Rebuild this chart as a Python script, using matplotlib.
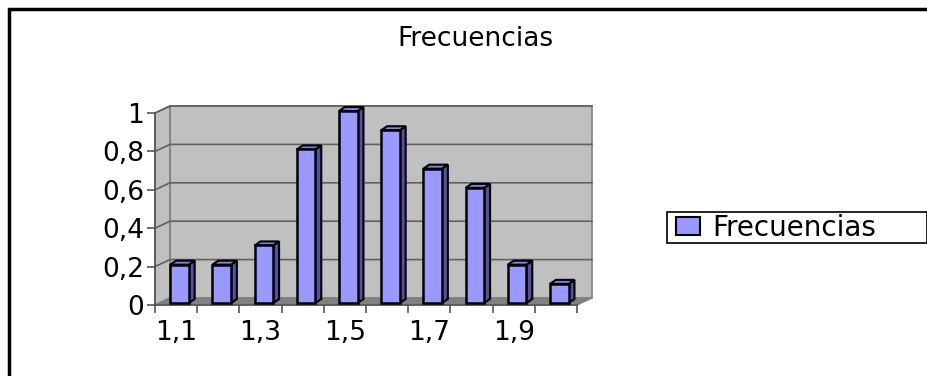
import matplotlib.pyplot as plt
from matplotlib.patches import Polygon, Rectangle, Patch

plt.rcParams['font.family'] = ['DejaVu Sans']

# Data
categories = ["1,1", "1,2", "1,3", "1,4", "1,5", "1,6", "1,7", "1,8", "1,9", "2"]
frecuencias = [0.2, 0.2, 0.3, 0.8, 1.0, 0.9, 0.7, 0.6, 0.2, 0.1]
y_ticks = [0, 0.2, 0.4, 0.6, 0.8, 1.0]
y_labels = ["0", "0,2", "0,4", "0,6", "0,8", "1"]

W, H = 928, 376
fig = plt.figure(figsize=(W / 100, H / 100), dpi=100)

# front plane of the 3D plot area (pixels)
x0, x1, ytop, ybot = 155, 577, 113, 305
ax = fig.add_axes([x0 / W, 1 - ybot / H, (x1 - x0) / W, (ybot - ytop) / H])
n = len(categories)
ax.set_xlim(0, n)
ax.set_ylim(0, 1)

# depth of the walls in data units
dx = 15 / ((x1 - x0) / n)
dy = 7 / (ybot - ytop)

wall = "#c0c0c0"
floor = "#808080"
grid = "#606060"

# back wall, side wall, floor
ax.add_patch(Polygon([(dx, dy), (n + dx, dy), (n + dx, 1 + dy), (dx, 1 + dy)],
                     closed=True, fc=wall, ec="#808080", lw=1.2, clip_on=False, zorder=1))
ax.add_patch(Polygon([(0, 0), (dx, dy), (dx, 1 + dy), (0, 1)],
                     closed=True, fc=wall, ec="#808080", lw=1.2, clip_on=False, zorder=1))
ax.add_patch(Polygon([(0, 0), (n, 0), (n + dx, dy), (dx, dy)],
                     closed=True, fc=floor, ec="#808080", lw=1, clip_on=False, zorder=1))
for v in y_ticks[1:]:
    ax.plot([0, dx, n + dx], [v, v + dy, v + dy], color=grid, lw=1.2,
            clip_on=False, zorder=2)

# bars
bl, br = 0.36, 0.80
bdx, bdy = 0.14, 0.021
base = 0.01
for i, v in enumerate(frecuencias):
    l, r = i + bl, i + br
    t = base + v
    ax.add_patch(Polygon([(r, base), (r + bdx, base + bdy), (r + bdx, t + bdy), (r, t)],
                         closed=True, fc="#5252a3", ec="black", lw=1.5, clip_on=False, zorder=3))
    ax.add_patch(Polygon([(l, t), (r, t), (r + bdx, t + bdy), (l + bdx, t + bdy)],
                         closed=True, fc="#8080e0", ec="black", lw=1.5, clip_on=False, zorder=3))
    ax.add_patch(Rectangle((l, base), r - l, v, fc="#9999ff", ec="black", lw=1.8,
                           clip_on=False, zorder=4))

# axes
for s in ["top", "right"]:
    ax.spines[s].set_visible(False)
for s in ["left", "bottom"]:
    ax.spines[s].set_color("#555555")
    ax.spines[s].set_linewidth(1.2)
ax.patch.set_visible(False)
ax.set_yticks(y_ticks)
ax.set_yticklabels(y_labels, fontsize=19)
ax.set_xticks(range(n + 1))
ax.set_xticklabels([])
ax.set_xticks([i + 0.5 for i in range(0, n, 2)], minor=True)
ax.set_xticklabels(categories[::2], minor=True, fontsize=19)
ax.tick_params(axis="x", which="major", length=6, color="#555555", width=1.2)
ax.tick_params(axis="x", which="minor", length=0, pad=11)
ax.tick_params(axis="y", length=6, color="#555555", width=1.2, pad=2)

# title
fig.text(475 / W, 1 - 39 / H, "Frecuencias", ha="center", va="center", fontsize=19)

# legend (frame drawn separately to match the wide box)
fig.patches.append(Rectangle((667 / W, 1 - 243 / H), (927 - 667) / W, 31 / H,
                             transform=fig.transFigure, fc="white", ec="black",
                             lw=1.2, figure=fig, zorder=5))
leg = fig.legend(handles=[Patch(fc="#9999ff", ec="black", lw=1.5, label="Frecuencias")],
                 loc="center left", bbox_to_anchor=(676 / W, 1 - 228 / H), fontsize=20,
                 frameon=False, handlelength=0.85, handleheight=0.6, handletextpad=0.45,
                 borderpad=0, borderaxespad=0)
leg.set_zorder(6)

# outer chart border
fig.patches.append(Rectangle((9 / W, -0.1), 1.1, 1 - 9 / H + 0.1, transform=fig.transFigure,
                             fill=False, ec="black", lw=2.5, figure=fig))

fig.savefig("out.png", dpi=100)
